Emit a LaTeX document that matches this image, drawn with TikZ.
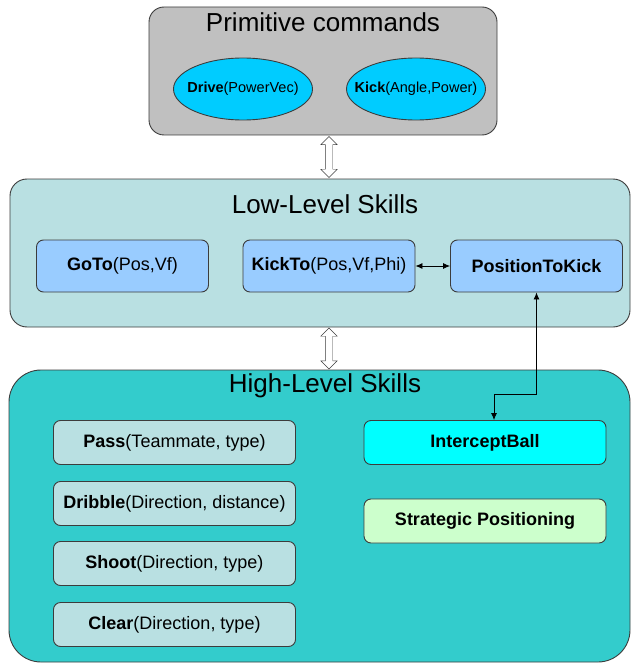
\documentclass[tikz,border=0pt]{standalone}
\usepackage{fontspec}
\setmainfont{Liberation Sans}
\usetikzlibrary{positioning,shapes.geometric,shapes.arrows,arrows.meta,calc}
\definecolor{edge}{RGB}{60,60,60}
\definecolor{primgray}{RGB}{192,192,192}
\definecolor{cmdblue}{RGB}{0,204,255}
\definecolor{lowteal}{RGB}{185,224,226}
\definecolor{skillblue}{RGB}{153,204,255}
\definecolor{highteal}{RGB}{51,204,204}
\definecolor{aqua}{RGB}{0,255,255}
\definecolor{mint}{RGB}{204,255,204}

\begin{document}
\begin{tikzpicture}[x=1pt, y=-1pt,
  every node/.style={font=\fontsize{18}{20}\selectfont},
  layer/.style={rectangle, rounded corners=15pt, draw=edge, line width=0.9pt},
  layertitle/.style={font=\fontsize{26}{30}\selectfont},
  cmd/.style={ellipse, draw=edge, fill=cmdblue, line width=0.9pt, minimum width=139pt, minimum height=62pt, inner xsep=-20pt, inner ysep=0pt, font=\fontsize{14.5}{16}\selectfont},
  skill/.style={rectangle, rounded corners=7pt, draw=edge, line width=0.9pt, inner sep=0pt},
  low/.style={skill, fill=skillblue, minimum width=172pt, minimum height=52pt},
  high/.style={skill, minimum width=242pt, minimum height=44pt},
  updown/.style={double arrow, draw=edge, fill=white, shape border rotate=90, inner sep=3.5pt, double arrow head extend=4.5pt, minimum height=41pt},
  link/.style={{Latex[length=7pt,width=6pt]}-{Latex[length=7pt,width=6pt]}, line width=0.8pt}
]
  \useasboundingbox (0,0) rectangle (631,663);

  % layers
  \node[layer, fill=primgray, minimum width=348pt, minimum height=128pt] (prim) at (323,71) {};
  \node[layer, fill=lowteal, minimum width=620pt, minimum height=148pt, rounded corners=17pt] (lowlvl) at (320,253) {};
  \node[layer, fill=highteal, minimum width=621pt, minimum height=292pt, rounded corners=32pt] (highlvl) at (319.5,516) {};

  \node[layertitle] (primtitle) at (323,22) {Primitive commands};
  \node[layertitle] (lowtitle) at (325,204) {Low-Level Skills};
  \node[layertitle] (hightitle) at (325,386) {High-Level Skills};

  % primitive commands
  \node[cmd] (drive) at (243,89) {\textbf{Drive}(PowerVec)};
  \node[cmd] (kick) at (416,89) {\textbf{Kick}(Angle,Power)};

  % low-level skills
  \node[low] (goto) at (122.5,266) {\textbf{GoTo}(Pos,Vf)};
  \node[low] (kickto) at (329,266) {\textbf{KickTo}(Pos,Vf,Phi)};
  \node[low] (postokick) at (536.5,266) {\textbf{PositionToKick}};

  % high-level skills
  \node[high, fill=lowteal] (pass) at (174.5,442.5) {\textbf{Pass}(Teammate, type)};
  \node[high, fill=lowteal] (dribble) at (174.5,503.5) {\textbf{Dribble}(Direction, distance)};
  \node[high, fill=lowteal] (shoot) at (174.5,563.5) {\textbf{Shoot}(Direction, type)};
  \node[high, fill=lowteal] (clear) at (174.5,624.5) {\textbf{Clear}(Direction, type)};
  \node[high, fill=aqua] (intercept) at (485,442.5) {\textbf{InterceptBall}};
  \node[high, fill=mint] (strategic) at (485,521) {\textbf{Strategic Positioning}};

  % connections
  \path ([xshift=6pt]prim.south) -- ([xshift=6pt]prim.south |- lowlvl.north) node[midway, updown] (a1) {};
  \path ([xshift=9pt]lowlvl.south) -- ([xshift=9pt]lowlvl.south |- highlvl.north) node[midway, updown] (a2) {};
  \draw[link] (kickto) -- (postokick);
  \draw[link] (postokick.south) -- ++(0,102) -| ([xshift=9pt]intercept.north);
\end{tikzpicture}
\end{document}
